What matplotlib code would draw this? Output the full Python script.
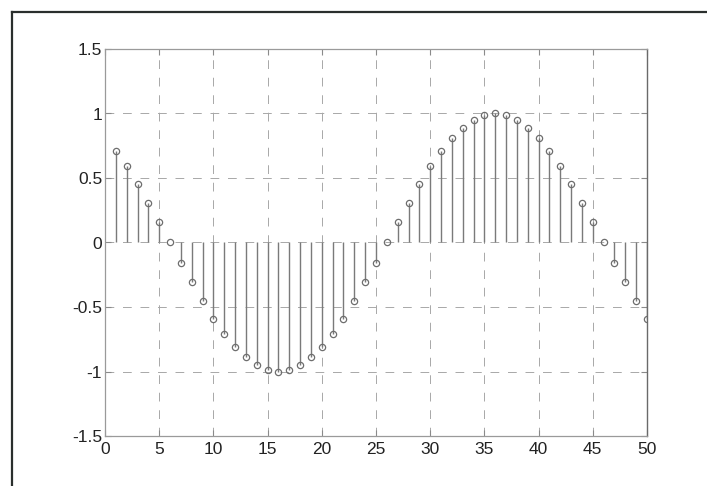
import matplotlib
matplotlib.use("Agg")
import matplotlib.pyplot as plt
from matplotlib.lines import Line2D

plt.rcParams['font.family'] = ['Liberation Sans', 'DejaVu Sans']

# sample index and sequence values
n = list(range(1, 51))
x = [0.71, 0.59, 0.45, 0.31, 0.16, 0.00, -0.16, -0.31, -0.45, -0.59,
     -0.71, -0.81, -0.89, -0.95, -0.99, -1.00, -0.99, -0.95, -0.89, -0.81,
     -0.71, -0.59, -0.45, -0.31, -0.16, 0.00, 0.16, 0.31, 0.45, 0.59,
     0.71, 0.81, 0.89, 0.95, 0.99, 1.00, 0.99, 0.95, 0.89, 0.81,
     0.71, 0.59, 0.45, 0.31, 0.16, 0.00, -0.16, -0.31, -0.45, -0.59]

xticks = [0, 5, 10, 15, 20, 25, 30, 35, 40, 45, 50]
xtick_labels = ['0', '5', '10', '15', '20', '25', '30', '35', '40', '45', '50']
yticks = [-1.5, -1, -0.5, 0, 0.5, 1, 1.5]
ytick_labels = ['-1.5', '-1', '-0.5', '0', '0.5', '1', '1.5']

fig = plt.figure(figsize=(7.07, 4.86), dpi=100)
fig.patch.set_facecolor('white')

# outer frame (left and top edges)
fig.add_artist(Line2D([12/707, 12/707], [0, 1 - 12/486], color='#2a2f2d', lw=1.6,
                      transform=fig.transFigure))
fig.add_artist(Line2D([12/707, 1], [1 - 12/486, 1 - 12/486], color='#2a2f2d', lw=1.6,
                      transform=fig.transFigure))

ax = fig.add_axes([105/707, 1 - 436/486, (647 - 105)/707, (436 - 49)/486])

markerline, stemlines, baseline = ax.stem(n, x, basefmt=' ')
plt.setp(stemlines, color='#7a7a7a', linewidth=1.0)
plt.setp(markerline, marker='o', markersize=4.5, markerfacecolor='none',
         markeredgecolor='#6e6e6e', markeredgewidth=0.9, linestyle='none')

ax.set_xlim(0, 50)
ax.set_ylim(-1.5, 1.5)
ax.set_xticks(xticks)
ax.set_xticklabels(xtick_labels)
ax.set_yticks(yticks)
ax.set_yticklabels(ytick_labels)

ax.grid(True, linestyle=(0, (9, 9)), color='#a8a8a8', linewidth=0.7)
ax.set_axisbelow(True)

for side in ['left', 'bottom', 'top']:
    ax.spines[side].set_color('#9a9a9a')
    ax.spines[side].set_linewidth(0.9)
ax.spines['right'].set_color('#6a6a6a')
ax.spines['right'].set_linewidth(1.0)

ax.tick_params(direction='in', length=4, width=0.8, color='#8a8a8a',
               labelsize=12.5, labelcolor='#222222', pad=2,
               top=True, right=True)
ax.tick_params(axis='x', pad=4)

fig.savefig('out.png', dpi=100, facecolor='white')
